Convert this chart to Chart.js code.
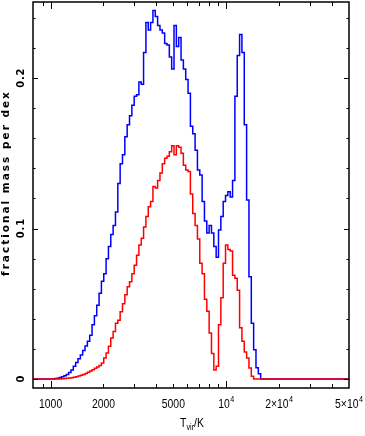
<!DOCTYPE html>
<html>
<head>
<meta charset="utf-8">
<script src="https://cdn.jsdelivr.net/npm/chart.js@4.4.1/dist/chart.umd.min.js"></script>
<style>
  html, body { margin: 0; padding: 0; background: #fff; }
</style>
</head>
<body>
<canvas id="chartArea" width="365" height="436"></canvas>
<script>
// Histogram bins in log10(T_vir): 75 bins per dex, first bin edge at log T = 2.996
var firstBinLogT = 2.996;
var binsPerDex = 75;

// Axis limits
var xMin = 794;
var xMax = 50000;
var yMin = -0.006;
var yMax = 0.2506;

// fractional mass per dex, one value per bin (blue curve)
var blueFrac = [
  0, 0, 0.0003, 0.0005, 0.001, 0.0015, 0.0022, 0.003, 0.0043, 0.006,
  0.0085, 0.011, 0.0135, 0.016, 0.019, 0.022, 0.025, 0.029, 0.036, 0.042,
  0.049, 0.057, 0.065, 0.070, 0.080, 0.088, 0.096, 0.102, 0.111, 0.130,
  0.143, 0.149, 0.161, 0.169, 0.175, 0.182, 0.188, 0.189, 0.1975, 0.196,
  0.217, 0.237, 0.232, 0.237, 0.245, 0.241, 0.235, 0.232, 0.230, 0.223,
  0.222, 0.214, 0.206, 0.235, 0.221, 0.227, 0.212, 0.206, 0.199, 0.190,
  0.168, 0.163, 0.152, 0.139, 0.1356, 0.118, 0.105, 0.097, 0.102, 0.097,
  0.088, 0.081, 0.099, 0.108, 0.118, 0.122, 0.1245, 0.121, 0.132, 0.188,
  0.215, 0.229, 0.217, 0.169, 0.119, 0.068, 0.037, 0.0195, 0.0075, 0.0035,
  0
];

// fractional mass per dex, one value per bin (red curve)
var redFrac = [
  0, 0, 0, 0, 0, 0.0002, 0.0003, 0.0004, 0.0006, 0.0008,
  0.0011, 0.0015, 0.0019, 0.0024, 0.003, 0.0037, 0.0045, 0.0053, 0.0062, 0.0071,
  0.008, 0.009, 0.0106, 0.014, 0.0173, 0.0217, 0.0272, 0.0316, 0.037, 0.039,
  0.0447, 0.050, 0.056, 0.0613, 0.0646, 0.070, 0.0756, 0.0823, 0.089, 0.0935,
  0.101, 0.108, 0.1145, 0.118, 0.128, 0.127, 0.132, 0.137, 0.143, 0.1467,
  0.148, 0.151, 0.155, 0.149, 0.155, 0.154, 0.150, 0.142, 0.139, 0.138,
  0.123, 0.110, 0.102, 0.093, 0.077, 0.070, 0.053, 0.045, 0.0305, 0.017,
  0.006, 0.0084, 0.036, 0.054, 0.077, 0.089, 0.086, 0.085, 0.069, 0.067,
  0.059, 0.034, 0.025, 0.018, 0.014, 0.0073, 0.0018, 0, 0, 0,
  0
];

// Tick marks and labels
var xDecadeTicks = [1000, 10000];
var xMinorTicks = [900, 2000, 3000, 4000, 5000, 6000, 7000, 8000, 9000, 20000, 30000, 40000];
var xTickLabels = [
  { value: 1000, base: '1000', sup: '' },
  { value: 2000, base: '2000', sup: '' },
  { value: 5000, base: '5000', sup: '' },
  { value: 10000, base: '10', sup: '4' },
  { value: 20000, base: '2\u00d710', sup: '4' },
  { value: 50000, base: '5\u00d710', sup: '4' }
];
var yTickValues = [0, 0.02, 0.04, 0.06, 0.08, 0.1, 0.12, 0.14, 0.16, 0.18, 0.2, 0.22, 0.24];
var yMajorTicks = [0, 0.1, 0.2];
var yTickLabels = ['0', '0.1', '0.2'];

// Turn bin values into step points (each point holds its bin's value until the next edge)
function binPoints(values) {
  var pts = [{ x: xMin, y: 0 }];
  values.forEach(function(v, k) {
    pts.push({ x: Math.pow(10, firstBinLogT + k / binsPerDex), y: v });
  });
  pts.push({ x: xMax, y: 0 });
  return pts;
}

var labelFont = '"Liberation Sans", Arial, sans-serif';
var titleFont = '"DejaVu Sans", Verdana, sans-serif';

// Draws frame, inward ticks, tick labels and axis titles
var frameAndLabels = {
  id: 'frameAndLabels',
  afterDatasetsDraw: function(chart) {
    var ctx = chart.ctx;
    var area = chart.chartArea;
    var xs = chart.scales.x;
    var ys = chart.scales.y;
    ctx.save();
    ctx.strokeStyle = '#000';
    ctx.lineWidth = 1.5;
    ctx.strokeRect(area.left, area.top, area.right - area.left, area.bottom - area.top);

    // x ticks top and bottom
    ctx.lineWidth = 1;
    ctx.beginPath();
    xDecadeTicks.concat(xMinorTicks).forEach(function(v) {
      var len = xDecadeTicks.indexOf(v) >= 0 ? 7 : 4;
      var px = Math.round(xs.getPixelForValue(v)) + 0.5;
      ctx.moveTo(px, area.bottom);
      ctx.lineTo(px, area.bottom - len);
      ctx.moveTo(px, area.top);
      ctx.lineTo(px, area.top + len);
    });
    // y ticks left and right
    yTickValues.forEach(function(v) {
      var len = yMajorTicks.indexOf(v) >= 0 ? 5 : 2.5;
      var py = Math.round(ys.getPixelForValue(v)) + 0.5;
      ctx.moveTo(area.left, py);
      ctx.lineTo(area.left + len, py);
      ctx.moveTo(area.right, py);
      ctx.lineTo(area.right - len, py);
    });
    ctx.stroke();

    // x tick labels (narrow sans)
    ctx.fillStyle = '#000';
    ctx.textBaseline = 'alphabetic';
    xTickLabels.forEach(function(t) {
      var px = xs.getPixelForValue(t.value);
      ctx.save();
      ctx.translate(px, 407.5);
      ctx.scale(0.8, 1);
      ctx.font = '13px ' + labelFont;
      var wBase = ctx.measureText(t.base).width;
      ctx.font = '9px ' + labelFont;
      var wSup = t.sup ? ctx.measureText(t.sup).width + 0.5 : 0;
      var x0 = -(wBase + wSup) / 2;
      ctx.textAlign = 'left';
      ctx.font = '13px ' + labelFont;
      ctx.fillText(t.base, x0, 0);
      if (t.sup) {
        ctx.font = '9px ' + labelFont;
        ctx.fillText(t.sup, x0 + wBase + 0.5, -6);
      }
      ctx.restore();
    });

    // x axis title T_vir/K
    ctx.save();
    ctx.translate((area.left + area.right) / 2 + 1, 427);
    ctx.scale(0.8, 1);
    ctx.font = '13px ' + labelFont;
    var wT = ctx.measureText('T').width;
    var wK = ctx.measureText('/K').width;
    ctx.font = '9px ' + labelFont;
    var wSub = ctx.measureText('vir').width;
    var start = -(wT + wSub + wK) / 2;
    ctx.textAlign = 'left';
    ctx.font = '13px ' + labelFont;
    ctx.fillText('T', start, 0);
    ctx.fillText('/K', start + wT + wSub, 0);
    ctx.font = '9px ' + labelFont;
    ctx.fillText('vir', start + wT, 3);
    ctx.restore();

    // y tick labels, rotated
    ctx.font = 'bold 10px ' + titleFont;
    ctx.letterSpacing = '0.8px';
    ctx.textAlign = 'center';
    ctx.textBaseline = 'middle';
    yMajorTicks.forEach(function(v, i) {
      ctx.save();
      ctx.translate(21, ys.getPixelForValue(v));
      ctx.rotate(-Math.PI / 2);
      ctx.fillText(yTickLabels[i], 0.4, 0);
      ctx.restore();
    });

    // y axis title, rotated
    ctx.font = 'bold 10.5px ' + titleFont;
    ctx.letterSpacing = '2px';
    ctx.save();
    ctx.translate(6, 184);
    ctx.rotate(-Math.PI / 2);
    ctx.fillText('fractional mass per dex', 1, 0);
    ctx.restore();

    ctx.restore();
  }
};

var ctx = document.getElementById('chartArea').getContext('2d');
var myChart = new Chart(ctx, {
  type: 'line',
  data: {
    datasets: [{
      label: 'red',
      data: binPoints(redFrac),
      borderColor: '#ff0000',
      borderWidth: 1.5,
      stepped: 'before',
      fill: false
    }, {
      label: 'blue',
      data: binPoints(blueFrac),
      borderColor: '#0000ff',
      borderWidth: 1.5,
      stepped: 'before',
      fill: false
    }]
  },
  options: {
    responsive: false,
    animation: false,
    layout: { padding: { left: 33, top: 2, right: 16, bottom: 48 } },
    elements: { point: { radius: 0 }, line: { tension: 0 } },
    plugins: { legend: { display: false }, tooltip: { enabled: false } },
    scales: {
      x: { type: 'logarithmic', min: xMin, max: xMax, display: false },
      y: { type: 'linear', min: yMin, max: yMax, display: false }
    }
  },
  plugins: [frameAndLabels]
});
</script>
</body>
</html>
